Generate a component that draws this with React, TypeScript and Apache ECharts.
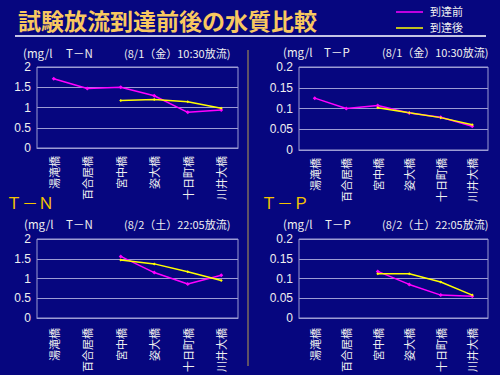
import React, { useEffect, useRef } from "react";
import * as echarts from "echarts";

const categories = ["湯滝橋", "百合居橋", "宮中橋", "姿大橋", "十日町橋", "川井大橋"];

const tn0801Before = [1.71, 1.47, 1.5, 1.29, 0.88, 0.94];
const tn0801After = [null, null, 1.17, 1.2, 1.14, 0.98];
const tp0801Before = [0.125, 0.1, 0.107, 0.089, 0.079, 0.057];
const tp0801After = [null, null, 0.102, 0.09, 0.078, 0.061];
const tn0802Before = [null, null, 1.56, 1.15, 0.86, 1.08];
const tn0802After = [null, null, 1.47, 1.37, 1.17, 0.95];
const tp0802Before = [null, null, 0.118, 0.085, 0.058, 0.055];
const tp0802After = [null, null, 0.112, 0.112, 0.091, 0.058];

const tnMax = 2;
const tnInterval = 0.5;
const tpMax = 0.2;
const tpInterval = 0.05;

const title = "試験放流到達前後の水質比較";
const legendNames = ["到達前", "到達後"];
const unitLabel = "(mg/l";
const headers = [
  ["T－N", "(8/1（金）10:30放流)"],
  ["T－P", "(8/1（金）10:30放流)"],
  ["T－N", "(8/2（土）22:05放流)"],
  ["T－P", "(8/2（土）22:05放流)"],
];
const bigLabels = ["Ｔ－Ｎ", "Ｔ－Ｐ"];

const BG = "#06067f";
const MAGENTA = "#ff00ff";
const YELLOW = "#ffff00";
const GRIDC = "#9c9cd4";
const TEXTC = "#f0f0f0";

export default function App() {
  const ref = useRef<HTMLDivElement>(null);
  useEffect(() => {
    if (!ref.current) return;
    const chart = echarts.init(ref.current, null, { renderer: "svg" });
    const grids = [
      { left: 37, top: 67, width: 201, height: 81 },
      { left: 299, top: 67, width: 189, height: 83 },
      { left: 37, top: 239, width: 201, height: 80 },
      { left: 299, top: 239, width: 189, height: 84 },
    ].map((g) => ({
      ...g,
      show: true,
      borderColor: GRIDC,
      borderWidth: 1,
      backgroundColor: "transparent",
    }));
    const margins = [8, 8, 10, 10];
    const xAxis = grids.map((_, i) => ({
      type: "category",
      gridIndex: i,
      data: categories,
      boundaryGap: true,
      axisLine: { lineStyle: { color: GRIDC } },
      axisTick: { inside: true, length: 4, lineStyle: { color: GRIDC } },
      axisLabel: {
        rotate: 90,
        interval: 0,
        margin: margins[i],
        color: TEXTC,
        fontSize: 11,
        fontFamily: "Noto Sans CJK JP",
      },
    }));
    const yAxis = grids.map((_, i) => {
      const isTN = i % 2 === 0;
      return {
        type: "value",
        gridIndex: i,
        min: 0,
        max: isTN ? tnMax : tpMax,
        interval: isTN ? tnInterval : tpInterval,
        axisLine: { show: false },
        axisTick: { show: false },
        splitLine: { lineStyle: { color: GRIDC, width: 1 } },
        axisLabel: {
          color: TEXTC,
          fontSize: 12,
          margin: 6,
          fontFamily: "Liberation Sans",
        },
      };
    });
    const befores = [tn0801Before, tp0801Before, tn0802Before, tp0802Before];
    const afters = [tn0801After, tp0801After, tn0802After, tp0802After];
    const series: any[] = [];
    for (let i = 0; i < 4; i++) {
      series.push({
        type: "line",
        name: legendNames[0],
        xAxisIndex: i,
        yAxisIndex: i,
        data: befores[i],
        symbol: "diamond",
        symbolSize: 4,
        lineStyle: { color: MAGENTA, width: 1.5 },
        itemStyle: { color: MAGENTA },
      });
      series.push({
        type: "line",
        name: legendNames[1],
        xAxisIndex: i,
        yAxisIndex: i,
        data: afters[i],
        symbol: "diamond",
        symbolSize: 3,
        lineStyle: { color: YELLOW, width: 1.5 },
        itemStyle: { color: YELLOW },
      });
    }
    const hdrPos = [
      { ux: 23, tx: 66, dx: 124, y: 53 },
      { ux: 283, tx: 324, dx: 382, y: 52 },
      { ux: 24, tx: 66, dx: 124, y: 224 },
      { ux: 283, tx: 325, dx: 382, y: 224 },
    ];
    const hdrText = (x: number, y: number, t: string, fs = 12) => ({
      type: "text",
      x,
      y,
      style: {
        text: t,
        fill: TEXTC,
        fontSize: fs,
        fontFamily: "Noto Sans CJK JP",
        verticalAlign: "middle",
      },
    });
    const graphic: any[] = [
      {
        type: "text",
        x: 18,
        y: 20,
        style: {
          text: title,
          fill: "#f8c860",
          fontSize: 23,
          fontWeight: "bold",
          fontFamily: "Noto Sans CJK JP",
          verticalAlign: "middle",
        },
      },
      {
        type: "line",
        shape: { x1: 15, y1: 36, x2: 486, y2: 36 },
        style: { stroke: "#c4c4e4", lineWidth: 2 },
      },
      {
        type: "line",
        shape: { x1: 248, y1: 50, x2: 248, y2: 366 },
        style: { stroke: "#7c6c5c", lineWidth: 1.5 },
      },
      {
        type: "line",
        shape: { x1: 396, y1: 12, x2: 423, y2: 12 },
        style: { stroke: MAGENTA, lineWidth: 1.5 },
      },
      {
        type: "line",
        shape: { x1: 396, y1: 28, x2: 423, y2: 28 },
        style: { stroke: YELLOW, lineWidth: 1.5 },
      },
      hdrText(430, 11, legendNames[0], 11),
      hdrText(430, 27, legendNames[1], 11),
      {
        type: "text",
        x: 6,
        y: 202,
        style: {
          text: bigLabels[0],
          fill: "#f5c400",
          fontSize: 16,
          fontFamily: "Noto Sans CJK JP",
          verticalAlign: "middle",
        },
      },
      {
        type: "text",
        x: 261,
        y: 202,
        style: {
          text: bigLabels[1],
          fill: "#f5c400",
          fontSize: 16,
          fontFamily: "Noto Sans CJK JP",
          verticalAlign: "middle",
        },
      },
    ];
    hdrPos.forEach((p, i) => {
      graphic.push(hdrText(p.ux, p.y, unitLabel, 11.5));
      graphic.push(hdrText(p.tx, p.y, headers[i][0], 11.5));
      graphic.push(hdrText(p.dx, p.y, headers[i][1], 11));
    });
    chart.setOption({
      animation: false,
      backgroundColor: BG,
      grid: grids,
      xAxis,
      yAxis,
      series,
      graphic,
    });
    return () => chart.dispose();
  }, []);
  return (
    <div
      ref={ref}
      style={{ position: "fixed", left: 0, top: 0, width: 500, height: 375 }}
    />
  );
}
